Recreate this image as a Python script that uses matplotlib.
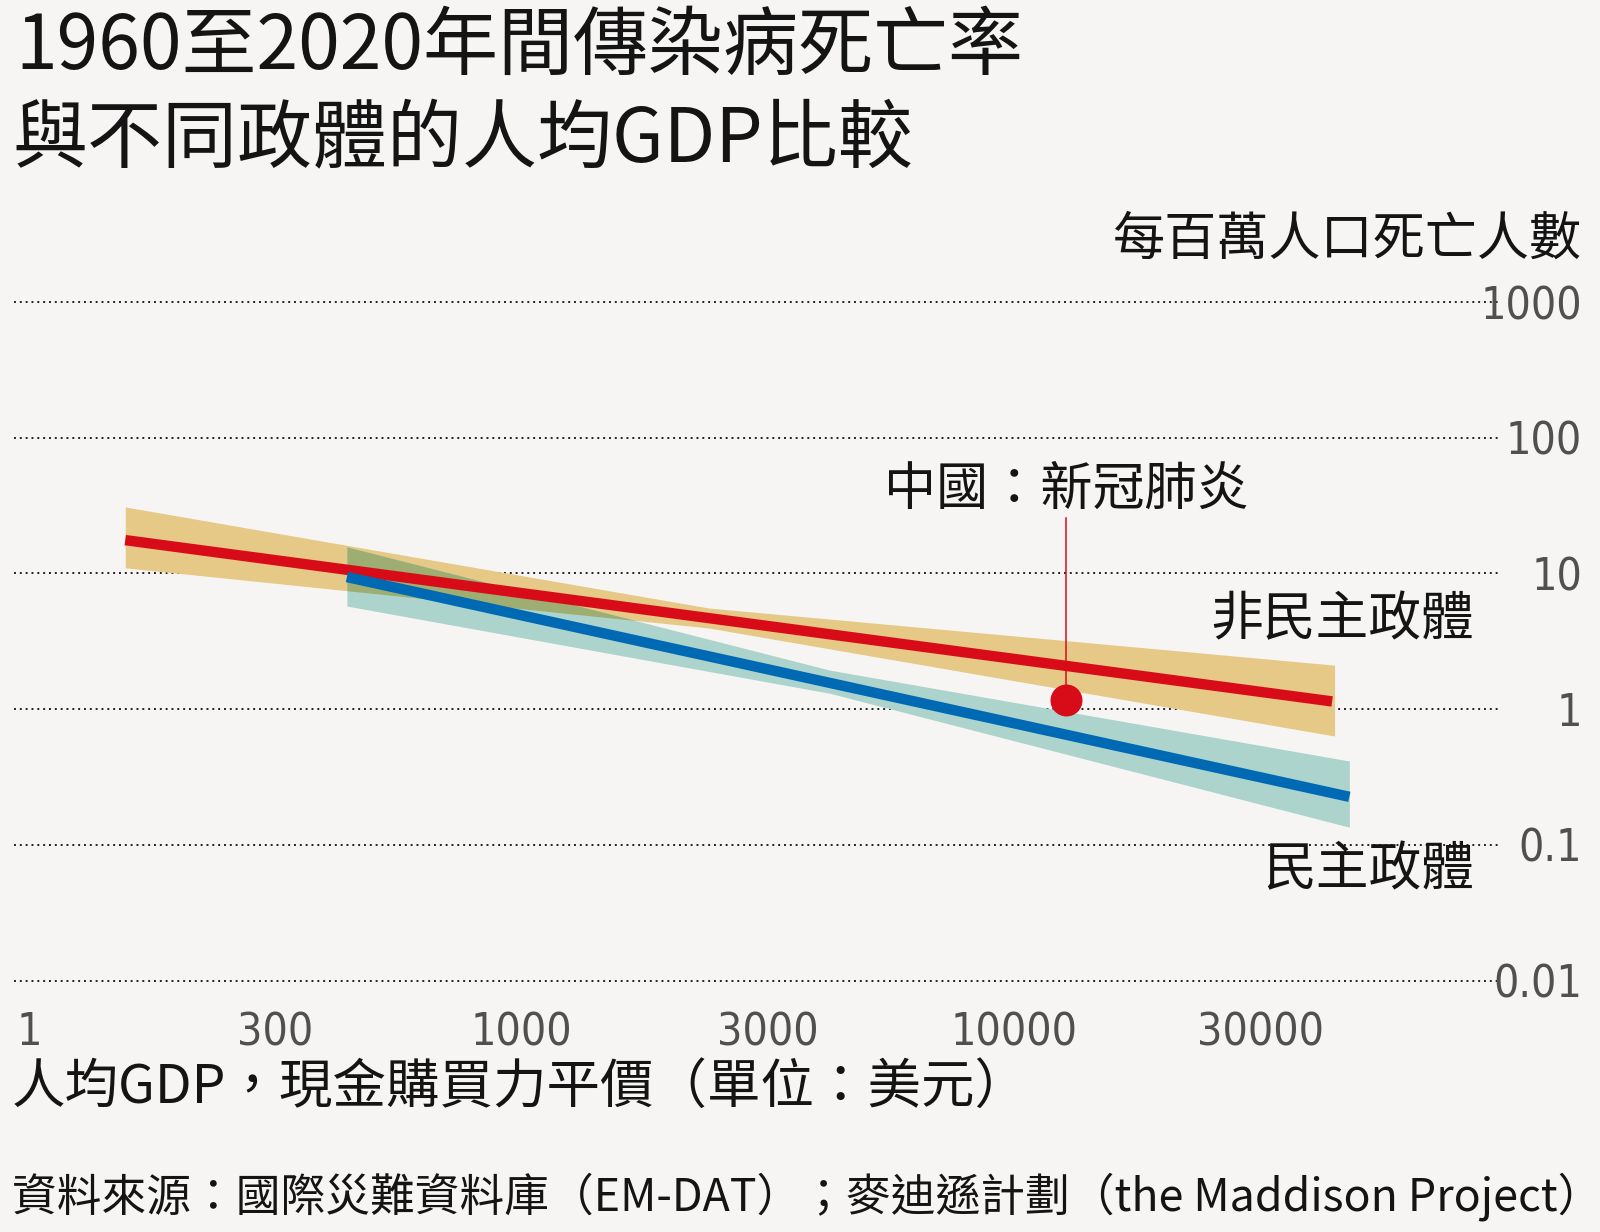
import matplotlib
matplotlib.use('Agg')
import numpy as np
import matplotlib.pyplot as plt
from matplotlib import font_manager
from matplotlib.font_manager import FontProperties
from matplotlib.ticker import NullLocator

CJK = 'Noto Sans CJK TC'
plt.rcParams['font.family'] = [CJK, 'DejaVu Sans']


def narrow_font():
    """Pick a condensed face for the tick numbers if one is installed."""
    wanted = ['Liberation Sans Narrow', 'Noto Sans', 'DejaVu Sans', 'Roboto', 'Open Sans']
    ok_weights = (300, 350, 400, 'light', 'normal', 'regular', 'book')
    found = {}
    for f in font_manager.fontManager.ttflist:
        if f.style != 'normal' or f.weight not in ok_weights:
            continue
        narrow = f.name == 'Liberation Sans Narrow' or 'condensed' in str(f.stretch)
        if narrow and f.name in wanted and f.name not in found:
            found[f.name] = f.fname
    for name in wanted:
        if name in found:
            return found[name]
    return None


BG = '#f6f5f3'
RED = '#d80c19'
BLUE = '#0069b4'
TAN = '#e6c987'
TEAL = '#acd4cc'
OVERLAP = '#9ead71'
INK = '#141414'
GREY = '#505050'

# x is in tick units: the published axis spaces its GDP labels evenly
x_labels = ['1', '300', '1000', '3000', '10000', '30000']
y_ticks = [0.01, 0.1, 1, 10, 100, 1000]
y_labels = ['0.01', '0.1', '1', '10', '100', '1000']

# non-democracies (fit line + confidence band)
autoc_x = [0.39, 5.29]
autoc_y = [17.6, 1.14]
autoc_band_x = [0.39, 2.76, 5.30]
autoc_band_hi = [30.9, 5.56, 2.11]
autoc_band_lo = [11.0, 3.96, 0.634]

# democracies
demo_x = [1.29, 5.36]
demo_y = [9.41, 0.226]
demo_band_x = [1.29, 3.25, 5.36]
demo_band_hi = [15.7, 1.94, 0.415]
demo_band_lo = [5.75, 1.31, 0.135]

# China, covid-19
china_x = 4.21
china_y = 1.17


def band_on(xs, bx, lo, hi):
    lo_i = 10 ** np.interp(xs, bx, np.log10(lo))
    hi_i = 10 ** np.interp(xs, bx, np.log10(hi))
    return lo_i, hi_i


fig = plt.figure(figsize=(16, 12.32), dpi=100, facecolor=BG)
W, H = 1600, 1232
ax = fig.add_axes([14 / W, 251.4 / H, 1484 / W, 678.6 / H])
ax.set_facecolor(BG)
ax.set_yscale('log')
ax.set_ylim(0.01, 1000)
ax.set_xlim(-0.0617, 5.9635)
for s in ax.spines.values():
    s.set_visible(False)

for yv in y_ticks:
    ax.axhline(yv, color='#222222', lw=1.4, ls=(0, (1, 2)), clip_on=False, zorder=1)

ax.fill_between(autoc_band_x, autoc_band_lo, autoc_band_hi, color=TAN, lw=0, zorder=2)
ax.fill_between(demo_band_x, demo_band_lo, demo_band_hi, color=TEAL, lw=0, zorder=2)

# where the two bands overlap the print shows a mixed tone
xs = np.linspace(max(autoc_band_x[0], demo_band_x[0]), min(autoc_band_x[-1], demo_band_x[-1]), 600)
a_lo, a_hi = band_on(xs, autoc_band_x, autoc_band_lo, autoc_band_hi)
d_lo, d_hi = band_on(xs, demo_band_x, demo_band_lo, demo_band_hi)
lo = np.maximum(a_lo, d_lo)
hi = np.minimum(a_hi, d_hi)
ax.fill_between(xs, lo, hi, where=hi > lo, interpolate=True, color=OVERLAP, lw=0, zorder=3)

ax.plot(autoc_x, autoc_y, color=RED, lw=7.5, solid_capstyle='butt', zorder=4)
ax.plot(demo_x, demo_y, color=BLUE, lw=7.5, solid_capstyle='butt', zorder=5)

ax.plot([china_x, china_x], [china_y, 25.6], color=RED, lw=1.1, zorder=6)
ax.scatter([china_x], [china_y], s=530, color=RED, lw=0, zorder=7)
ax.text(china_x, 41.2, '中國：新冠肺炎', ha='center', va='center', fontsize=37.5, color=INK)

ax.text(5.866, 4.54, '非民主政體', ha='right', va='center', fontsize=38, color=INK)
ax.text(5.866, 0.0652, '民主政體', ha='right', va='center', fontsize=38, color=INK)

nf = narrow_font()
if nf:
    tick_fp = FontProperties(fname=nf, size=32)
else:
    tick_fp = FontProperties(family=['Noto Sans CJK TC'], size=27)

ax.set_xticks(range(len(x_labels)), x_labels)
ax.tick_params(axis='x', length=0, pad=22, labelcolor=GREY)
for lab in ax.get_xticklabels():
    lab.set_fontproperties(tick_fp)

ax.yaxis.tick_right()
ax.set_yticks(y_ticks, y_labels)
ax.yaxis.set_minor_locator(NullLocator())
ax.tick_params(axis='y', length=0, pad=60.5, labelcolor=GREY)
for lab in ax.get_yticklabels():
    lab.set_fontproperties(tick_fp)
    lab.set_horizontalalignment('right')

fig.text(15 / W, 1 - 47 / H, '1960至2020年間傳染病死亡率', fontsize=54, color=INK, va='center', ha='left')
fig.text(12 / W, 1 - 141 / H, '與不同政體的人均GDP比較', fontsize=54, color=INK, va='center', ha='left')
fig.text(1582 / W, 1 - 240 / H, '每百萬人口死亡人數', fontsize=37.5, color=INK, va='center', ha='right')
fig.text(12 / W, 1 - 1087 / H, '人均GDP，現金購買力平價（單位：美元）', fontsize=38.5, color=INK,
         va='center', ha='left')
fig.text(12 / W, 1 - 1197 / H, '資料來源：國際災難資料庫（EM-DAT）；麥迪遜計劃（the Maddison Project）',
         fontsize=32.2, color=INK, va='center', ha='left', fontweight='light')

fig.savefig('out.png', dpi=100, facecolor=BG)
